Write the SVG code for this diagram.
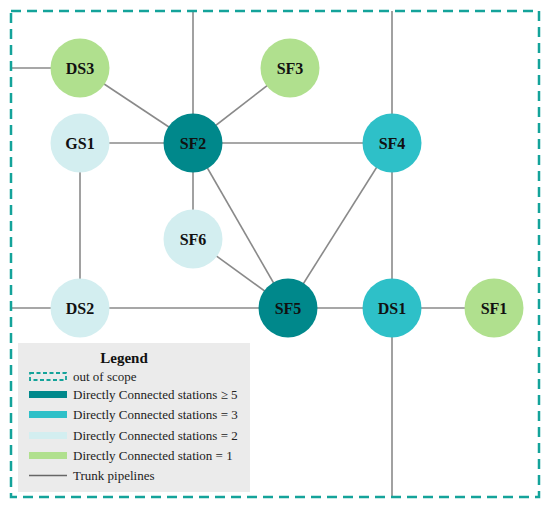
<svg xmlns="http://www.w3.org/2000/svg" width="550" height="508" viewBox="0 0 550 508">
<style>
.edge{stroke:#8a8a8a;stroke-width:1.6;fill:none}
.lbl{font-family:'Liberation Serif',serif;font-weight:bold;font-size:16px;text-anchor:middle;fill:#111}
.lt{font-family:'Liberation Serif',serif;font-size:13px;fill:#222}
.c5{fill:#00888b}.c3{fill:#2ec0c8}.c2{fill:#d3eef0}.c1{fill:#b0e08e}
</style>
<rect width="550" height="508" fill="#fff"/>
<g id="connectors">
<line class="edge" x1="11" y1="68" x2="80" y2="68"/>
<line class="edge" x1="193" y1="11" x2="193" y2="143"/>
<line class="edge" x1="392" y1="11" x2="392" y2="143"/>
<line class="edge" x1="11" y1="308" x2="80" y2="308"/>
<line class="edge" x1="392" y1="308" x2="392" y2="497"/>
<line class="edge" x1="80" y1="68" x2="193" y2="143"/>
<line class="edge" x1="290" y1="68" x2="193" y2="143"/>
<line class="edge" x1="80" y1="143" x2="193" y2="143"/>
<line class="edge" x1="193" y1="143" x2="392" y2="143"/>
<line class="edge" x1="193" y1="143" x2="193" y2="239"/>
<line class="edge" x1="193" y1="143" x2="288" y2="308"/>
<line class="edge" x1="193" y1="239" x2="288" y2="308"/>
<line class="edge" x1="80" y1="143" x2="80" y2="308"/>
<line class="edge" x1="80" y1="308" x2="288" y2="308"/>
<line class="edge" x1="392" y1="143" x2="288" y2="308"/>
<line class="edge" x1="392" y1="143" x2="392" y2="308"/>
<line class="edge" x1="288" y1="308" x2="494" y2="308"/>
</g>
<rect id="scope" x="11" y="11" width="528" height="486" fill="none" stroke="#14a39a" stroke-width="2.5" stroke-dasharray="10 6"/>
<g id="DS3"><circle class="c1" cx="80" cy="68" r="29.5"/><text class="lbl" x="80" y="73.5">DS3</text></g>
<g id="SF3"><circle class="c1" cx="290" cy="68" r="29.5"/><text class="lbl" x="290" y="73.5">SF3</text></g>
<g id="GS1"><circle class="c2" cx="80" cy="143" r="29.5"/><text class="lbl" x="80" y="148.5">GS1</text></g>
<g id="SF2"><circle class="c5" cx="193" cy="143" r="29.5"/><text class="lbl" x="193" y="148.5">SF2</text></g>
<g id="SF4"><circle class="c3" cx="392" cy="143" r="29.5"/><text class="lbl" x="392" y="148.5">SF4</text></g>
<g id="SF6"><circle class="c2" cx="193" cy="239" r="29.5"/><text class="lbl" x="193" y="244.5">SF6</text></g>
<g id="DS2"><circle class="c2" cx="80" cy="308" r="29.5"/><text class="lbl" x="80" y="313.5">DS2</text></g>
<g id="SF5"><circle class="c5" cx="288" cy="308" r="29.5"/><text class="lbl" x="288" y="313.5">SF5</text></g>
<g id="DS1"><circle class="c3" cx="392" cy="308" r="29.5"/><text class="lbl" x="392" y="313.5">DS1</text></g>
<g id="SF1"><circle class="c1" cx="494" cy="308" r="29.5"/><text class="lbl" x="494" y="313.5">SF1</text></g>
<g id="legend">
<rect x="18" y="343" width="232" height="149" fill="#ebebeb"/>
<text x="124" y="363" font-family="'Liberation Serif',serif" font-weight="bold" font-size="15" text-anchor="middle" fill="#111">Legend</text>
<rect x="30" y="373" width="36" height="7" fill="none" stroke="#14a39a" stroke-width="1.8" stroke-dasharray="4 2.5"/>
<text class="lt" x="73" y="381">out of scope</text>
<rect x="29" y="391" width="38" height="7" class="c5"/>
<text class="lt" x="73" y="399">Directly Connected stations ≥ 5</text>
<rect x="29" y="411" width="38" height="7" class="c3"/>
<text class="lt" x="73" y="419">Directly Connected stations = 3</text>
<rect x="29" y="432" width="38" height="7" class="c2"/>
<text class="lt" x="73" y="440">Directly Connected stations = 2</text>
<rect x="29" y="452" width="38" height="7" class="c1"/>
<text class="lt" x="73" y="460">Directly Connected station = 1</text>
<line x1="29" y1="475.5" x2="67" y2="475.5" stroke="#666" stroke-width="1.3"/>
<text class="lt" x="73" y="480">Trunk pipelines</text>
</g>
</svg>
